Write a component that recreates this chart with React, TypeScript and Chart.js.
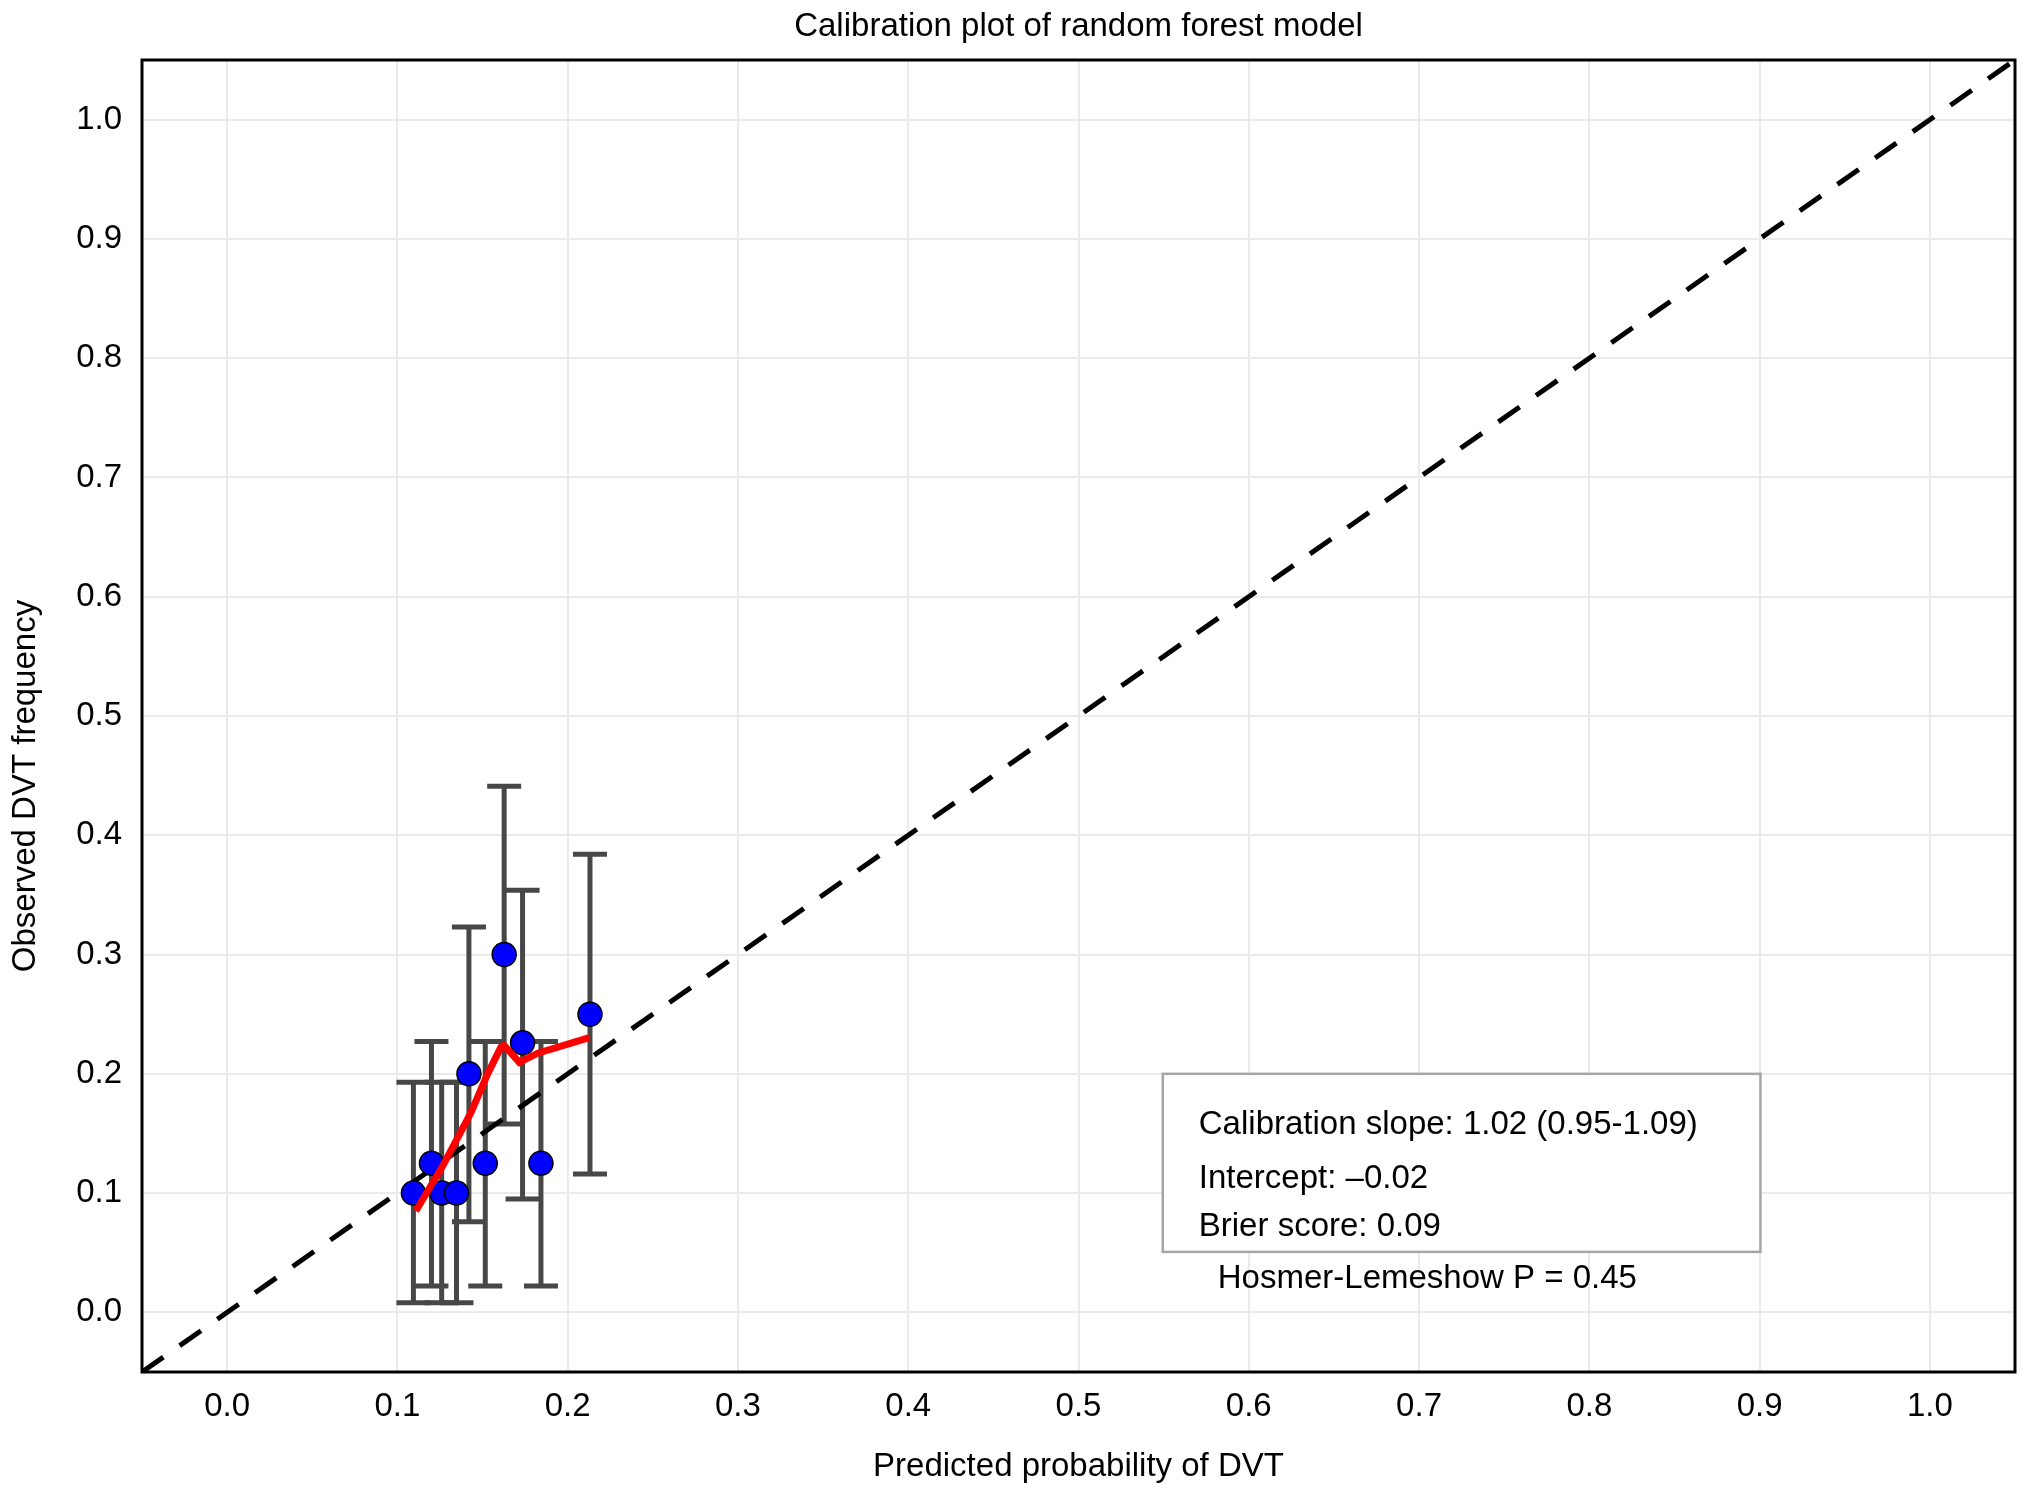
import { useEffect, useRef } from "react";
import { Chart, registerables } from "chart.js";

Chart.register(...registerables);

const FONT = "'Liberation Sans', Arial, Helvetica, sans-serif";
const FS = 33;

// grouped calibration points (predicted vs observed, with 95% CI)
const predX = [0.1094, 0.12, 0.126, 0.1347, 0.142, 0.1516, 0.1627, 0.1735, 0.1843, 0.2131];
const obsY = [0.1, 0.125, 0.1, 0.1, 0.2, 0.125, 0.3, 0.226, 0.125, 0.25];
const ciLow = [0.008, 0.022, 0.008, 0.008, 0.076, 0.022, 0.158, 0.095, 0.022, 0.116];
const ciHigh = [0.193, 0.227, 0.193, 0.193, 0.323, 0.227, 0.441, 0.354, 0.227, 0.384];

// smoothed calibration curve
const curveX = [0.1108, 0.1265, 0.1431, 0.153, 0.1608, 0.1627, 0.1716, 0.1824, 0.2127];
const curveY = [0.085, 0.1224, 0.1672, 0.2, 0.2224, 0.2239, 0.2096, 0.2173, 0.2304];

// ideal line
const idealX = [-0.05, 1.05];

const tickValues = [0, 0.1, 0.2, 0.3, 0.4, 0.5, 0.6, 0.7, 0.8, 0.9, 1.0];

const statsLines = [
  "Calibration slope: 1.02 (0.95-1.09)",
  "Intercept: \u20130.02",
  "Brier score: 0.09",
];
const hlText = "Hosmer-Lemeshow P = 0.45";

const errorBarsPlugin = {
  id: "errorBars",
  beforeDatasetsDraw(chart: any) {
    const { ctx, scales } = chart;
    const xs = scales.x;
    const ys = scales.y;
    ctx.save();
    ctx.strokeStyle = "#474747";
    ctx.lineWidth = 5;
    ctx.lineCap = "butt";
    predX.forEach((px, i) => {
      const x = xs.getPixelForValue(px);
      const t = ys.getPixelForValue(ciHigh[i]);
      const b = ys.getPixelForValue(ciLow[i]);
      ctx.beginPath();
      ctx.moveTo(x, t);
      ctx.lineTo(x, b);
      ctx.moveTo(x - 17, t);
      ctx.lineTo(x + 17, t);
      ctx.moveTo(x - 17, b);
      ctx.lineTo(x + 17, b);
      ctx.stroke();
    });
    ctx.restore();
  },
  afterDraw(chart: any) {
    const { ctx, chartArea, scales } = chart;
    const xs = scales.x;
    const ys = scales.y;
    ctx.save();
    // frame
    ctx.strokeStyle = "#000";
    ctx.lineWidth = 3;
    ctx.strokeRect(chartArea.left, chartArea.top, chartArea.right - chartArea.left, chartArea.bottom - chartArea.top);

    // stats box
    const bl = xs.getPixelForValue(0.5495);
    const br = xs.getPixelForValue(0.9005);
    const bt = ys.getPixelForValue(0.2);
    const bb = ys.getPixelForValue(0.0507);
    ctx.fillStyle = "#fff";
    ctx.fillRect(bl, bt, br - bl, bb - bt);
    ctx.strokeStyle = "#a6a6a6";
    ctx.lineWidth = 2.5;
    ctx.strokeRect(bl, bt, br - bl, bb - bt);

    ctx.fillStyle = "#000";
    ctx.font = `${FS}px ${FONT}`;
    ctx.textAlign = "left";
    ctx.textBaseline = "alphabetic";
    const tx = bl + 36;
    const baselines = [bt + 60, bt + 114, bt + 162];
    statsLines.forEach((s, i) => ctx.fillText(s, tx, baselines[i]));
    ctx.fillText(hlText, bl + 55, bt + 214);

    // y axis title
    ctx.translate(35, 786);
    ctx.rotate(-Math.PI / 2);
    ctx.textAlign = "center";
    ctx.fillText("Observed DVT frequency", 0, 0);
    ctx.restore();
  },
};

export default function App() {
  const canvasRef = useRef<HTMLCanvasElement | null>(null);
  const chartRef = useRef<Chart | null>(null);

  useEffect(() => {
    document.body.style.margin = "0";
    const canvas = canvasRef.current;
    if (!canvas) return;
    if (chartRef.current) chartRef.current.destroy();

    chartRef.current = new Chart(canvas, {
      type: "scatter",
      data: {
        datasets: [
          {
            type: "line",
            label: "Ideal",
            data: idealX.map((v) => ({ x: v, y: v })),
            borderColor: "#000",
            borderWidth: 5,
            borderDash: [26, 20],
            pointRadius: 0,
            fill: false,
            order: 3,
          },
          {
            label: "Observed",
            data: predX.map((x, i) => ({ x, y: obsY[i] })),
            backgroundColor: "#0000ff",
            borderColor: "#000",
            borderWidth: 1.5,
            pointRadius: 12,
            order: 2,
          },
          {
            type: "line",
            label: "Curve",
            data: curveX.map((x, i) => ({ x, y: curveY[i] })),
            borderColor: "#ff0000",
            borderWidth: 7,
            pointRadius: 0,
            tension: 0,
            fill: false,
            order: 1,
          },
        ],
      },
      options: {
        responsive: true,
        maintainAspectRatio: false,
        animation: false,
        layout: { padding: { left: 0, right: 17, top: 0, bottom: 0 } },
        plugins: {
          legend: { display: false },
          tooltip: { enabled: false },
          title: {
            display: true,
            fullSize: false,
            text: "Calibration plot of random forest model",
            color: "#000",
            font: { family: FONT, size: FS, weight: "normal", lineHeight: 1.2 },
            padding: { top: 7, bottom: 13.4 },
          },
        },
        scales: {
          x: {
            type: "linear",
            min: -0.05,
            max: 1.05,
            afterBuildTicks: (scale: any) => {
              scale.ticks = tickValues.map((v) => ({ value: v }));
            },
            afterFit: (scale: any) => {
              scale.height = 123;
            },
            ticks: {
              color: "#000",
              padding: 15,
              font: { family: FONT, size: FS, lineHeight: 1.2 },
              callback: (v: any) => Number(v).toFixed(1),
            },
            grid: { color: "#ebebeb", lineWidth: 2, drawTicks: false },
            border: { display: false },
            title: {
              display: true,
              text: "Predicted probability of DVT",
              color: "#000",
              font: { family: FONT, size: FS, lineHeight: 1.2 },
              padding: { top: 0, bottom: 8 },
            },
          },
          y: {
            type: "linear",
            min: -0.05,
            max: 1.05,
            afterBuildTicks: (scale: any) => {
              scale.ticks = tickValues.map((v) => ({ value: v }));
            },
            afterFit: (scale: any) => {
              scale.width = 142;
            },
            ticks: {
              color: "#000",
              padding: 20,
              font: { family: FONT, size: FS, lineHeight: 1.2 },
              callback: (v: any) => Number(v).toFixed(1),
            },
            grid: { color: "#ebebeb", lineWidth: 2, drawTicks: false },
            border: { display: false },
          },
        },
      },
      plugins: [errorBarsPlugin],
    });

    return () => {
      if (chartRef.current) {
        chartRef.current.destroy();
        chartRef.current = null;
      }
    };
  }, []);

  return (
    <div style={{ width: 2032, height: 1495, position: "relative", background: "#fff" }}>
      <canvas ref={canvasRef} />
    </div>
  );
}
